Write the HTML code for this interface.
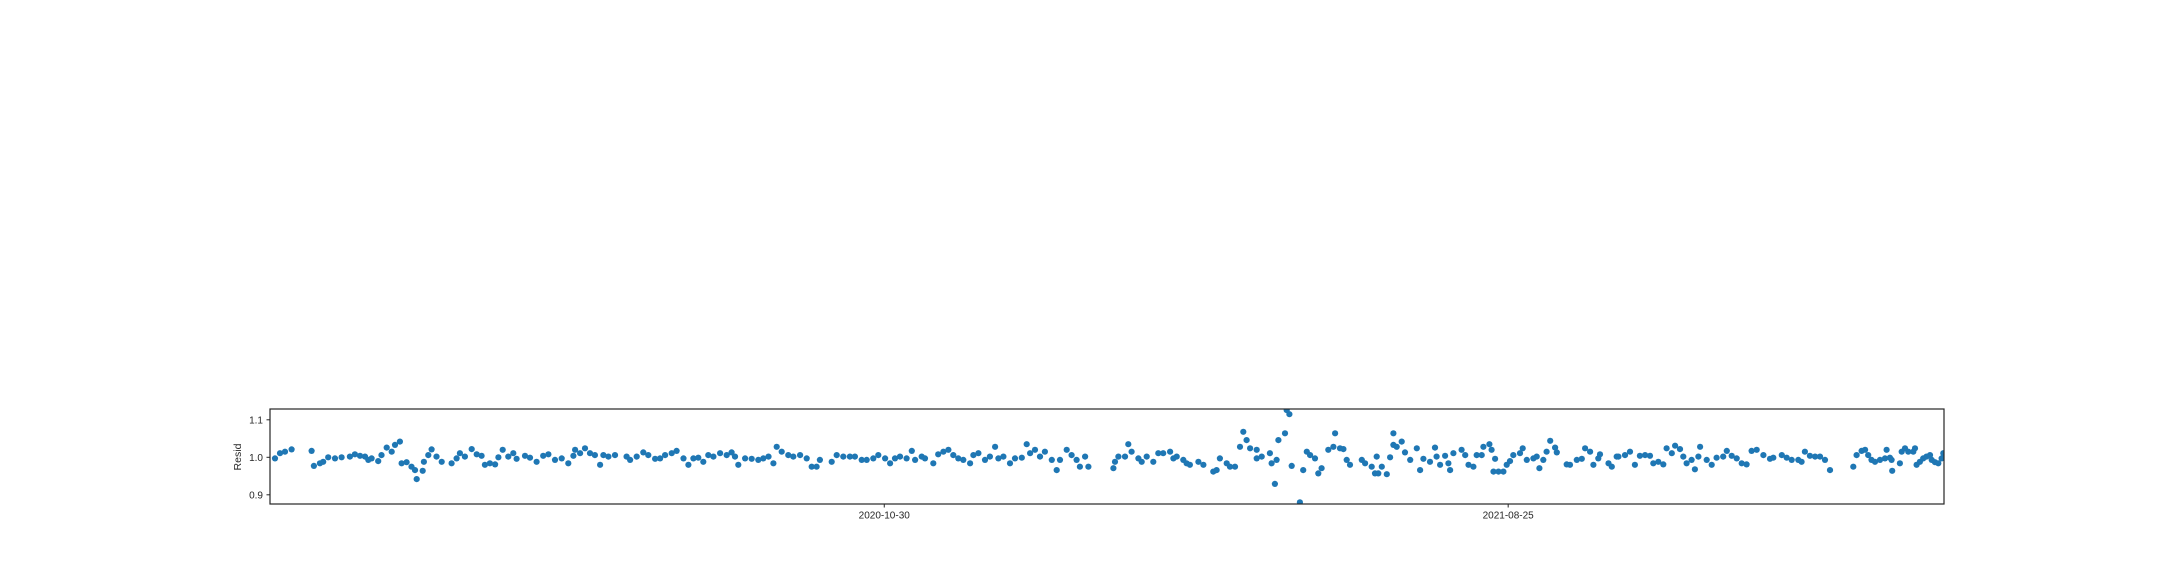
<!DOCTYPE html>
<html><head><meta charset="utf-8"><style>
html,body{margin:0;padding:0;background:#fff;}
svg{display:block;font-family:"Liberation Sans",sans-serif;}
</style></head><body>
<svg id="chart" width="2160" height="576" viewBox="0 0 2160 576" xmlns="http://www.w3.org/2000/svg">
<defs><clipPath id="plotclip"><rect x="270" y="409" width="1674" height="95"/></clipPath></defs>
<rect x="0" y="0" width="2160" height="576" fill="#fff"/>
<g id="points" clip-path="url(#plotclip)"></g>
<g id="axes"></g>
<rect x="270" y="409" width="1674" height="95" fill="none" stroke="#262626" stroke-width="1.2"/>
<text x="241" y="457" transform="rotate(-90 241 457)" text-anchor="middle" font-size="10.5" fill="#262626">Resid</text>
</svg>
<script>
// day offsets (approx. days since 2020-10-25)
const days = [
-294,-293.4,-289.3,-286.9,-284.5,-281.3,-271.6,-270.5,-267.6,-266,-263.6,-260.3,-257.1,-253.1,-250.7,-248.2,-245.8,-244.2,-242.6,-239.4,-237.8,-235.3,-232.9,-231.3,-228.9,
-228.1,-225.7,-223.3,-221.6,-220.8,-217.9,-217.3,-215.2,-213.6,-211.2,-208.7,
-203.9,-201.5,-199.9,-197.5,-194.2,-191.8,-189.4,-187.8,-185.4,-182.9,-181.3,-179.2,-176.5,-174.1,-172.5,-168.4,-166,-162.8,
-159.6,-157.1,-153.9,-150.7,-147.5,-145,-144.2,-141.8,-139.4,-137,
-134.6,-132.1,-130.5,-128.1,-124.9,-119.3,-117.6,-114.4,-111.2,-108.8,
-105.5,-103.1,-100.7,-97.5,-95.1,-91.8,-89.4,-87,-84.6,-82.2,
-79.8,-77.3,-74.1,-70.9,-68.5,-66.9,-65.3,-62,-58.8,-55.6,
-53.2,-50.7,-48.3,-46.7,-44.3,-41.1,-38.7,-35.4,-32.2,
-29.8,-27.4,-25.8,-20.1,-17.7,-14.5,-11.3,-8.9,-5.6,-3.2,
0,2.4,5.7,8.1,10.5,12.9,16.1,18.6,20.2,23.4,
25,29,31.4,33.9,36.3,38.7,41.1,43.5,46.8,48.4,
50.8,54,56.4,58.9,60.5,62.9,66.1,68.5,71.8,74.2,
75.8,78.2,80.6,83,86.3,88.7,90.3,93.5,95.9,98.3,
99.9,102.4,104,116.1,116.9,118.5,121.7,123.3,124.9,128.2,
129.8,132.2,135.4,137.8,140.2,143.5,145.1,146.7,149.9,151.5,
153.1,157.2,159.6,164.4,166,167.6,170.9,172.5,174.9,177.3,
178.9,180.5,182.2,185.4,185.4,187.8,191.8,192.6,194.2,195,
195.9,199.1,199.9,201.2,202.3,206.3,207.9,209.6,211.2,213.6,
215.2,216.8,220,222.5,223.3,225.7,227.3,228.9,
230.5,236.2,237.8,241,242.6,243.4,244.2,245.9,248.3,249.9,
251.5,251.5,253.1,255.5,257.1,259.6,262.8,264.4,266,269.2,
271.6,272.4,274.1,276.5,278.1,278.9,280.5,284.5,286.2,287.8,
290.2,291.8,294.2,295,297.9,299,299.9,300.7,302.3,304.7,
306.3,307.9,309.5,312.7,314,316,319.2,320.8,322.1,324,
325.6,327.3,329.7,330.5,335.3,336.9,340.2,342.6,344.2,346.6,
348.2,350.6,351.4,355.5,357.1,359.5,
360.3,363.5,365.9,368.3,370.7,373.2,375.6,377.2,379.6,382,
383.6,386.1,387.7,390.1,391.7,393.3,395.7,397.3,399,399.8,
403,405.4,407.8,411,412.7,415.1,417.5,419.9,422.3,424.7,
427.2,430.4,433.6,435.2,439.3,441.7,444.1,447.3,448.9,450.5,
452.9,455.4,457.8,460.2,462.6,473.9,475.5,477.9,479.6,
481.1,482.7,484.4,486.8,489.2,490,491.6,492.4,492.7,496.4,
497.3,498.9,500.5,502.9,503.7,504.5,506.1,507.7,509.3,511,
511.8,513.4,515,516.6,517.4
];
const resid = [
.993,.993,.997,1.011,1.015,1.021,1.017,.977,.984,.988,1.0,.997,1.0,1.002,1.008,1.004,1.002,.993,.997,.99,1.006,1.026,1.015,1.033,1.042,
.984,.987,.975,.966,.942,.964,.988,1.006,1.021,1.002,.988,
.984,.997,1.011,1.002,1.022,1.008,1.004,.98,.984,.981,1.0,1.02,1.002,1.011,.996,1.004,.999,.988,
1.004,1.008,.993,.997,.984,1.004,1.02,1.011,1.024,1.011,
1.006,.98,1.006,1.002,1.006,1.002,.993,1.002,1.013,1.006,
.996,.997,1.006,1.011,1.017,.997,.98,.997,.999,.988,
1.006,1.002,1.011,1.006,1.013,1.002,.98,.997,.996,.993,
.997,1.002,.984,1.028,1.015,1.006,1.002,1.006,.997,
.975,.975,.993,.988,1.006,1.002,1.002,1.002,.993,.993,
.997,1.006,.997,.984,.997,1.002,.997,1.017,.993,1.002,
.997,.984,1.008,1.015,1.02,1.006,.997,.993,.984,1.006,
1.011,.993,1.002,1.028,.997,1.002,.984,.997,.999,1.035,
1.011,1.02,1.002,1.015,.993,.966,.993,1.02,1.006,.993,
.975,1.002,.975,.971,.988,1.002,1.002,1.035,1.015,.997,
.988,1.002,.988,1.011,1.011,1.015,.997,1.002,.993,.984,
.98,.988,.98,.962,.966,.997,.984,.975,.975,1.028,
1.068,1.046,1.024,1.02,.997,1.002,1.011,.984,.929,.993,
1.046,1.064,1.126,1.115,.977,.88,.966,1.015,1.006,.997,
.957,.971,1.02,1.028,1.064,1.024,1.022,.993,
.98,.993,.984,.975,.957,1.002,.957,.975,.955,1.0,
1.064,1.033,1.028,1.042,1.013,.993,1.024,.966,.996,.988,
1.026,1.002,.98,1.004,.984,.966,1.011,1.02,1.006,.98,
.975,1.006,1.006,1.028,1.035,1.02,.962,.996,.962,.962,
.98,.99,1.006,1.011,1.024,.993,.997,1.002,.971,.993,
1.015,1.044,1.026,1.013,.981,.98,.993,.996,1.024,1.015,
.98,.997,1.008,.984,.975,1.002,
1.002,1.006,1.015,.98,1.004,1.006,1.004,.984,.988,.981,
1.024,1.011,1.031,1.022,1.002,.984,.993,.968,1.002,1.028,
.993,.98,.999,1.002,1.017,1.004,.997,.984,.981,1.017,
1.02,1.006,.996,.999,1.006,.999,.993,.993,.988,1.015,
1.004,1.002,1.002,.993,.966,.975,1.006,1.017,1.02,
1.006,.993,.988,.993,.997,1.02,.999,.993,.964,.984,
1.015,1.024,1.015,1.015,1.024,.98,.988,.997,1.002,1.006,
.993,.987,.984,.997,1.011
];
const yTicks = [0.9, 1.0, 1.1];
const yTickLabels = ["0.9", "1.0", "1.1"];
const xTicks = [5.3, 307.0];
const xTickLabels = ["2020-10-30", "2021-08-25"];

const NS = "http://www.w3.org/2000/svg";
function xs(d){ return 873.3 + d * 2.068; }
function ys(v){ return 457.3 - (v - 1.0) * 375; }

const pts = document.getElementById('points');
const n = Math.min(days.length, resid.length);
for (let i = 0; i < n; i++) {
  const c = document.createElementNS(NS, 'circle');
  c.setAttribute('cx', xs(days[i]).toFixed(1));
  c.setAttribute('cy', ys(resid[i]).toFixed(1));
  c.setAttribute('r', '3.1');
  c.setAttribute('fill', '#1f77b4');
  
  
  pts.appendChild(c);
}
const axes = document.getElementById('axes');
yTicks.forEach((t, i) => {
  const y = ys(t);
  const l = document.createElementNS(NS, 'line');
  l.setAttribute('x1', 266.5); l.setAttribute('x2', 270);
  l.setAttribute('y1', y); l.setAttribute('y2', y);
  l.setAttribute('stroke', '#262626'); l.setAttribute('stroke-width', '1');
  
  
  axes.appendChild(l);
  const tx = document.createElementNS(NS, 'text');
  tx.setAttribute('x', 263); tx.setAttribute('y', y + 3.5);
  tx.setAttribute('text-anchor', 'end'); tx.setAttribute('font-size', '10');
  tx.setAttribute('fill', '#262626');
  tx.textContent = yTickLabels[i];
  
  
  axes.appendChild(tx);
});
xTicks.forEach((t, i) => {
  const x = xs(t);
  const l = document.createElementNS(NS, 'line');
  l.setAttribute('x1', x); l.setAttribute('x2', x);
  l.setAttribute('y1', 504); l.setAttribute('y2', 507.5);
  l.setAttribute('stroke', '#262626'); l.setAttribute('stroke-width', '1');
  
  
  axes.appendChild(l);
  const tx = document.createElementNS(NS, 'text');
  tx.setAttribute('x', x); tx.setAttribute('y', 518.5);
  tx.setAttribute('text-anchor', 'middle'); tx.setAttribute('font-size', '10');
  tx.setAttribute('fill', '#262626');
  tx.textContent = xTickLabels[i];
  
  
  axes.appendChild(tx);
});
</script>
</body></html>
